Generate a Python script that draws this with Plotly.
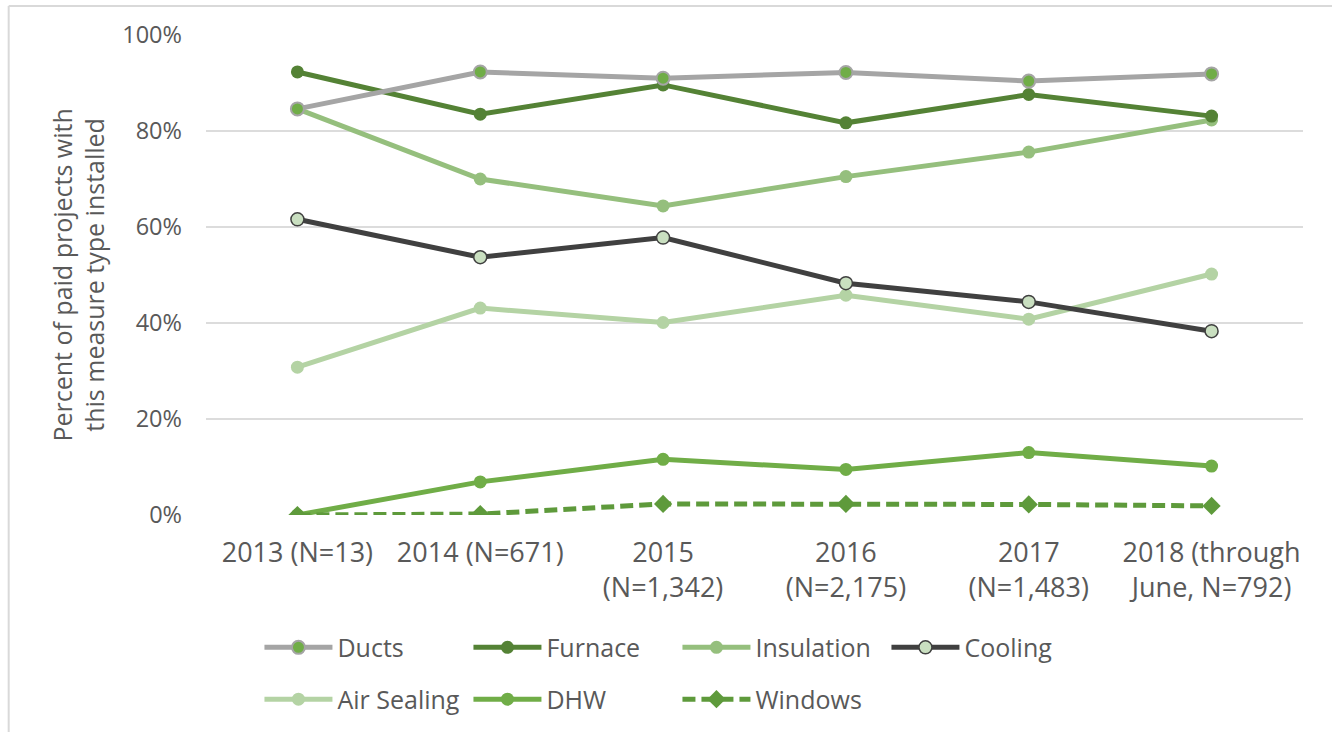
import plotly.graph_objects as go

categories = ["2013 (N=13)", "2014 (N=671)", "2015<br>(N=1,342)", "2016<br>(N=2,175)",
              "2017<br>(N=1,483)", "2018 (through<br>June, N=792)"]

ducts = [84.6, 92.3, 91.0, 92.2, 90.4, 91.9]
furnace = [92.3, 83.5, 89.6, 81.7, 87.6, 83.1]
insulation = [84.6, 70.0, 64.4, 70.5, 75.6, 82.3]
cooling = [61.6, 53.7, 57.8, 48.3, 44.4, 38.3]
air_sealing = [30.8, 43.1, 40.1, 45.8, 40.8, 50.2]
dhw = [0.0, 6.9, 11.6, 9.5, 13.0, 10.2]
windows = [0.0, 0.2, 2.3, 2.3, 2.2, 1.9]

y_ticks = [0, 20, 40, 60, 80, 100]
y_tick_labels = ["0%", "20%", "40%", "60%", "80%", "100%"]

FONT = "Open Sans"
TXT = "#595959"

fig = go.Figure()

def add(name, vals, color, mfill, mline_color=None, mline_w=0, symbol="circle",
        dash="solid", legend="legend", msize=13):
    fig.add_trace(go.Scatter(
        x=categories, y=vals, name=name, mode="lines+markers",
        line=dict(color=color, width=5, dash=dash),
        marker=dict(color=mfill, size=msize, symbol=symbol,
                    line=dict(color=mline_color or mfill, width=mline_w)),
        legend=legend,
    ))

# draw order: back to front
add("Air Sealing", air_sealing, "#B4D3A4", "#B4D3A4", legend="legend2")
add("DHW", dhw, "#70AD47", "#70AD47", legend="legend2")
add("Windows", windows, "#5E9A3B", "#5E9A3B", symbol="diamond", dash="13px,6px",
    legend="legend2", msize=14)
add("Cooling", cooling, "#404040", "#C9DFC0", "#404040", 1.5)
add("Insulation", insulation, "#95BF7D", "#95BF7D")
add("Furnace", furnace, "#548235", "#548235")
add("Ducts", ducts, "#A5A5A5", "#70AD47", "#A5A5A5", 2)

order1 = ["Ducts", "Furnace", "Insulation", "Cooling"]
order2 = ["Air Sealing", "DHW", "Windows"]
for tr in fig.data:
    if tr.name in order1:
        tr.legendrank = order1.index(tr.name) + 1
    else:
        tr.legendrank = order2.index(tr.name) + 1

W, H = 1332, 732
L, R, T, B = 205.5, 28.5, 35, 217
pw = W - L - R
ph = H - T - B

def px_x(p):
    return (p - L) / pw

def px_y(p):
    return (H - B - p) / ph

leg_common = dict(orientation="h", x=px_x(259), xanchor="left", yanchor="top",
                  entrywidth=126, itemwidth=68, font=dict(size=25, color=TXT),
                  traceorder="normal", bgcolor="rgba(0,0,0,0)")

fig.update_layout(
    width=W, height=H,
    margin=dict(l=L, r=R, t=T, b=B, autoexpand=False),
    paper_bgcolor="white", plot_bgcolor="white",
    font=dict(family=FONT, color=TXT, size=22),
    xaxis=dict(showgrid=False, showline=False, ticks="", tickfont=dict(size=27, color=TXT),
               ticklabelstandoff=19, range=[-0.5, 5.5], fixedrange=True, automargin=False),
    yaxis=dict(range=[0, 100], tickvals=y_ticks, ticktext=y_tick_labels,
               showgrid=True, gridcolor="#DCDCDC", gridwidth=1.5, zeroline=False,
               showline=False, ticks="", tickfont=dict(size=23.5, color=TXT),
               ticklabelstandoff=23, automargin=False),
    legend=dict(y=-0.2283, **leg_common),
    legend2=dict(y=-0.3363, **leg_common),
    showlegend=True,
)

fig.add_annotation(
    text="Percent of paid projects with<br>this measure type installed",
    xref="paper", yref="paper", x=px_x(77), y=0.5, xanchor="center", yanchor="middle",
    textangle=-90, showarrow=False, font=dict(size=25, color=TXT, family=FONT),
)

# outer chart border
fig.add_shape(type="line", xref="paper", yref="paper",
              x0=px_x(8), x1=px_x(8), y0=px_y(H + 5), y1=px_y(6),
              line=dict(color="#D9D9D9", width=2))
fig.add_shape(type="line", xref="paper", yref="paper",
              x0=px_x(8), x1=px_x(W + 5), y0=px_y(6), y1=px_y(6),
              line=dict(color="#D9D9D9", width=2))

fig.write_html("out.html", config={"displayModeBar": False},
               post_script="document.body.style.margin='0';")
